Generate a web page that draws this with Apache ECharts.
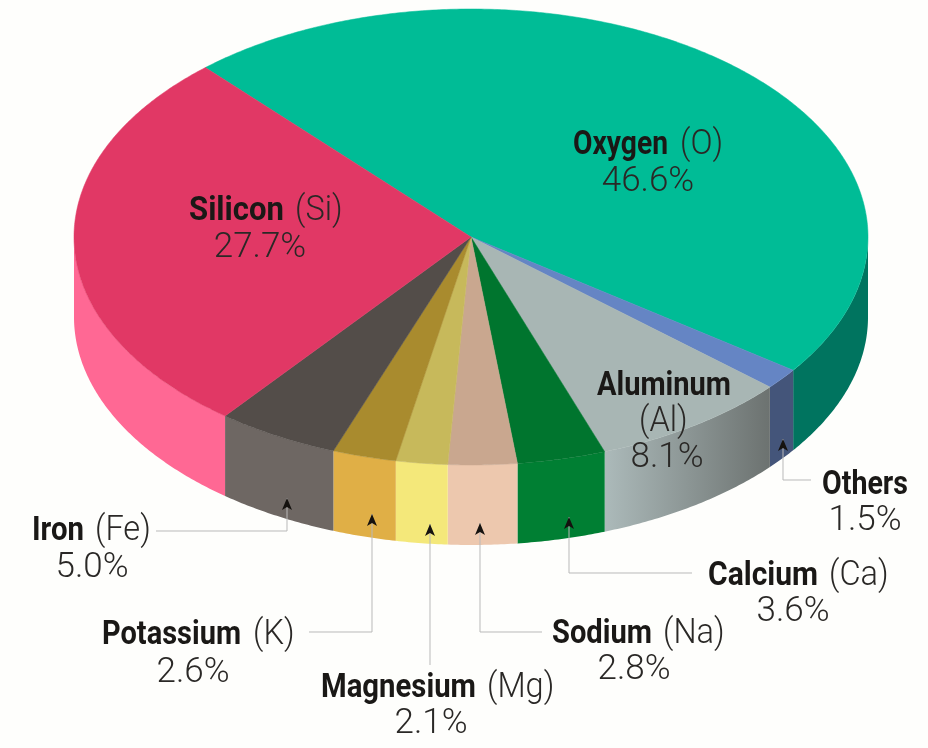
<!DOCTYPE html>
<html>
<head>
<meta charset="utf-8">
<title>Elements in the Earth's crust</title>
<script src="https://cdn.jsdelivr.net/npm/echarts@6/dist/echarts.min.js"></script>
<style>
    html, body { margin: 0; padding: 0; background: #fefefc; }
    #chart { width: 928px; height: 748px; }
</style>
</head>
<body>
<div id="chart"></div>
<script>
// data, clockwise from the top of the pie
var elements = ['Oxygen', 'Others', 'Aluminum', 'Calcium', 'Sodium', 'Magnesium', 'Potassium', 'Iron', 'Silicon'];
var symbols = ['O', '', 'Al', 'Ca', 'Na', 'Mg', 'K', 'Fe', 'Si'];
var percents = [46.6, 1.5, 8.1, 3.6, 2.8, 2.1, 2.6, 5.0, 27.7];

// colours
var topColors = ['#00bc96', '#6585c4', '#a8b6b4', '#00752e', '#c9a78f', '#c7b95b', '#a98b2e', '#534d49', '#e13865'];
var sideColors = ['#00745f', '#44557a', null, '#007f33', '#edc8ae', '#f4e87a', '#e0af46', '#6e6763', '#ff6894'];
var aluminumSide = {
    type: 'linear', x: 0, y: 0, x2: 1, y2: 0,
    colorStops: [{ offset: 0, color: '#acbaba' }, { offset: 1, color: '#6c7270' }]
};

// pie layout
var cx = 471, cy = 237, rx = 397, ry = 228, depth = 80, startAngle = 228;

// label layout, same order as elements:
// name left, name width, name y, symbol left, symbol y, percent centre x, percent y
var labelPos = [
    [573, 95, 145, 680, 145, 648, 182],
    [822, 86, 485, 0, 0, 865, 521],
    [597, 134, 386, 639, 422, 667, 458],
    [708, 110, 576, 829, 576, 793, 612],
    [552, 100, 634, 663, 634, 634, 670],
    [321, 155, 688, 487, 688, 431, 724],
    [102, 139, 635, 253, 635, 193, 673],
    [32, 52, 531, 95, 531, 92, 568],
    [189, 95, 211, 295, 211, 260, 248]
];
// leader lines: points from the text to the arrow tip (null = no leader)
var leaders = [
    null,
    [[811, 480], [783, 480], [783, 439]],
    null,
    [[692, 573], [569, 573], [569, 517]],
    [[542, 632], [480, 632], [480, 523]],
    [[430, 665], [430, 524]],
    [[309, 632], [372, 632], [372, 514]],
    [[156, 531], [287, 531], [287, 498]],
    null
];

var boldFont = 'bold 34px Roboto';
var lightFont = '300 35px Roboto';
var symbolScale = 0.93;

var total = percents.reduce(function (a, b) { return a + b; }, 0);
var angles = [];
var sum = 0;
percents.forEach(function (v) {
    var from = startAngle + sum / total * 360;
    sum += v;
    angles.push([from, startAngle + sum / total * 360]);
});

function rimPoint(deg, dy) {
    var r = deg * Math.PI / 180;
    return [cx + rx * Math.cos(r), cy + ry * Math.sin(r) + dy];
}

function arc(from, to, dy) {
    var pts = [];
    var n = Math.max(2, Math.ceil((to - from) * 2));
    for (var i = 0; i <= n; i++) {
        pts.push(rimPoint(from + (to - from) * i / n, dy));
    }
    return pts;
}

// the part of a slice's rim that faces the viewer (sin > 0)
function frontRange(a) {
    var ranges = [[a[0], Math.min(a[1], 180)], [Math.max(a[0], 360), Math.min(a[1], 540)]];
    return ranges.filter(function (r) { return r[1] > r[0]; })[0];
}

function renderSlice(params, api) {
    var i = params.dataIndex;
    var a = angles[i];
    var children = [];
    var front = frontRange(a);
    if (front) {
        var side = arc(front[0], front[1], 0).concat(arc(front[0], front[1], depth).reverse());
        children.push({
            type: 'polygon',
            shape: { points: side },
            style: { fill: sideColors[i] || aluminumSide }
        });
    }
    children.push({
        type: 'polygon',
        shape: { points: [[cx, cy]].concat(arc(a[0], a[1], 0)) },
        style: { fill: topColors[i], stroke: topColors[i], lineWidth: 0.5 }
    });
    return { type: 'group', children: children };
}

var graphics = [];

leaders.forEach(function (pts) {
    if (!pts) return;
    graphics.push({
        type: 'polyline', z: 10,
        shape: { points: pts },
        style: { stroke: '#b9b9b9', lineWidth: 1, fill: null }
    });
    var tip = pts[pts.length - 1];
    graphics.push({
        type: 'polygon', z: 11,
        shape: { points: [tip, [tip[0] - 5, tip[1] + 12], [tip[0], tip[1] + 9], [tip[0] + 5, tip[1] + 12]] },
        style: { fill: '#15120f' }
    });
});

// no narrow bold font is installed, so the names are squeezed to the reference's width
var measure = document.createElement('canvas').getContext('2d');
measure.font = boldFont;

elements.forEach(function (name, i) {
    var p = labelPos[i];
    graphics.push({
        type: 'text', z: 12,
        x: p[0], y: p[2],
        scaleX: p[1] / measure.measureText(name).width,
        style: { text: name, font: boldFont, fill: '#1a1816', align: 'left', verticalAlign: 'middle' }
    });
    if (symbols[i]) {
        graphics.push({
            type: 'text', z: 12,
            x: p[3], y: p[4],
            scaleX: symbolScale,
            style: { text: '(' + symbols[i] + ')', font: lightFont, fill: '#2a2826', align: 'left', verticalAlign: 'middle' }
        });
    }
    graphics.push({
        type: 'text', z: 12,
        x: p[5], y: p[6],
        style: { text: percents[i].toFixed(1) + '%', font: lightFont, fill: '#2a2826', align: 'center', verticalAlign: 'middle' }
    });
});

var myChart = echarts.init(document.getElementById('chart'));
myChart.setOption({
    animation: false,
    backgroundColor: '#fefefc',
    series: [{
        type: 'custom',
        coordinateSystem: 'none',
        z: 1,
        silent: true,
        data: percents,
        renderItem: renderSlice
    }],
    graphic: graphics
});
</script>
</body>
</html>
